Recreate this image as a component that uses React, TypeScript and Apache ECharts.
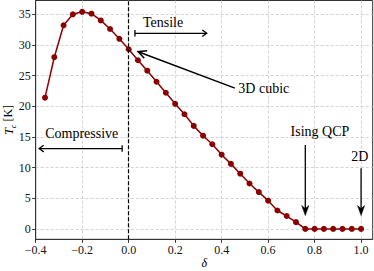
import React, { useEffect, useRef } from "react";
import * as echarts from "echarts";

const deltaValues = [
  -0.36, -0.32, -0.28, -0.24, -0.2, -0.16, -0.12, -0.08, -0.04, 0.0, 0.04, 0.08,
  0.12, 0.16, 0.2, 0.24, 0.28, 0.32, 0.36, 0.4, 0.44, 0.48, 0.52, 0.56, 0.6,
  0.64, 0.68, 0.72, 0.76, 0.8, 0.84, 0.88, 0.92, 0.96, 1.0,
];
const tcValues = [
  21.4, 28.0, 33.2, 35.0, 35.4, 35.1, 34.0, 32.6, 31.0, 29.3, 27.5, 25.8, 24.0,
  22.2, 20.4, 18.7, 16.8, 15.2, 13.8, 12.1, 10.6, 9.0, 7.4, 6.0, 4.6, 3.0, 2.1,
  1.1, 0, 0, 0, 0, 0, 0, 0,
];
const xTicks = [-0.4, -0.2, 0.0, 0.2, 0.4, 0.6, 0.8, 1.0];
const yTicks = [0, 5, 10, 15, 20, 25, 30, 35];

const FONT = "'Liberation Serif', 'DejaVu Serif', serif";
const RED = "#8b0000";
const AX = "#333333";

export default function App() {
  const ref = useRef<HTMLDivElement>(null);
  useEffect(() => {
    if (!ref.current) return;
    const chart = echarts.init(ref.current, null, { renderer: "svg" });
    chart.setOption({
      animation: false,
      textStyle: { fontFamily: FONT },
      grid: {
        left: 35.7,
        right: 1.3,
        top: 0.5,
        bottom: 31.7,
        show: true,
        borderColor: AX,
        borderWidth: 1,
        backgroundColor: "transparent",
        outerBoundsMode: "none",
      },
      xAxis: {
        type: "value",
        min: -0.4,
        max: 1.05,
        name: "δ",
        nameLocation: "middle",
        nameGap: 18,
        nameMoveOverlap: false,
        nameTextStyle: { fontFamily: FONT, fontSize: 12, fontStyle: "italic", color: "#000" },
        axisLine: { onZero: false, lineStyle: { color: AX, width: 1 } },
        axisTick: { length: 3.5, lineStyle: { color: AX }, customValues: xTicks },
        axisLabel: {
          customValues: xTicks,
          fontFamily: FONT,
          fontSize: 12,
          color: "#111",
          margin: 5,
          formatter: (v: number) => v.toFixed(1).replace("-", "\u2212"),
        },
        splitLine: { show: true, lineStyle: { color: "#c8c8c8", type: [3, 2], width: 0.8 } },
      },
      yAxis: {
        type: "value",
        min: -1.7,
        max: 37.25,
        name: "{t|T}{s|c} [K]",
        nameLocation: "middle",
        nameGap: 21,
        nameRotate: 90,
        nameMoveOverlap: false,
        nameTextStyle: {
          fontFamily: FONT,
          fontSize: 12,
          color: "#000",
          rich: {
            t: { fontFamily: FONT, fontStyle: "italic", fontSize: 12, color: "#000", verticalAlign: "bottom", lineHeight: 14 },
            s: { fontFamily: FONT, fontStyle: "italic", fontSize: 8, color: "#000", verticalAlign: "bottom", lineHeight: 14, padding: [0, 0, -3, 0] },
          },
        },
        axisLine: { show: true, onZero: false, lineStyle: { color: AX, width: 1 } },
        axisTick: { show: true, length: 3.5, lineStyle: { color: AX }, customValues: yTicks },
        axisLabel: { customValues: yTicks, fontFamily: FONT, fontSize: 12, color: "#111", margin: 5 },
        splitLine: { show: true, lineStyle: { color: "#c8c8c8", type: [3, 2], width: 0.8 } },
      },
      series: [
        {
          type: "line",
          data: deltaValues.map((d, i) => [d, tcValues[i]]),
          symbol: "circle",
          symbolSize: 6,
          itemStyle: { color: RED },
          lineStyle: { color: RED, width: 1.5 },
          markLine: {
            silent: true,
            symbol: "none",
            label: { show: false },
            lineStyle: { color: "#000", type: [4, 2], width: 1.2 },
            data: [{ xAxis: 0 }],
          },
          z: 3,
        },
      ],
    });

    const p = (x: number, y: number) => chart.convertToPixel({ gridIndex: 0 }, [x, y]) as number[];
    const els: any[] = [];
    const txt = (x: number, y: number, s: string, align = "center") => {
      const [px, py] = p(x, y);
      els.push({
        type: "text",
        x: px,
        y: py,
        style: { text: s, fontFamily: FONT, fontSize: 14, fill: "#000", align, verticalAlign: "middle" },
        z: 10,
      });
    };
    const line = (a: number[], b: number[], w = 1.3) =>
      els.push({ type: "line", shape: { x1: a[0], y1: a[1], x2: b[0], y2: b[1] }, style: { stroke: "#000", lineWidth: w }, z: 10 });
    const openHead = (from: number[], tip: number[], len: number, hw: number, w = 1.3) => {
      const dx = tip[0] - from[0], dy = tip[1] - from[1];
      const L = Math.hypot(dx, dy);
      const ux = dx / L, uy = dy / L;
      const nx = -uy, ny = ux;
      const bx = tip[0] - ux * len, by = tip[1] - uy * len;
      els.push({
        type: "polyline",
        shape: { points: [[bx + nx * hw, by + ny * hw], tip, [bx - nx * hw, by - ny * hw]] },
        style: { stroke: "#000", lineWidth: w, fill: "none" },
        z: 10,
      });
    };
    const filledHead = (from: number[], tip: number[], len: number, hw: number) => {
      const dx = tip[0] - from[0], dy = tip[1] - from[1];
      const L = Math.hypot(dx, dy);
      const ux = dx / L, uy = dy / L;
      const nx = -uy, ny = ux;
      const bx = tip[0] - ux * len, by = tip[1] - uy * len;
      const mx = tip[0] - ux * len * 0.7, my = tip[1] - uy * len * 0.7;
      els.push({
        type: "polygon",
        shape: { points: [tip, [bx + nx * hw, by + ny * hw], [mx, my], [bx - nx * hw, by - ny * hw]] },
        style: { fill: "#000", stroke: "#000", lineWidth: 0.5 },
        z: 10,
      });
    };
    const bar = (pt: number[], h: number) => line([pt[0], pt[1] - h], [pt[0], pt[1] + h], 1.3);

    // Tensile
    txt(0.148, 33.6, "Tensile");
    {
      const a = p(0.027, 31.9), b = p(0.336, 31.9);
      line(a, b);
      bar(a, 3.3);
      openHead(a, b, 4.5, 3.3);
    }
    // Compressive
    txt(-0.202, 15.6, "Compressive");
    {
      const a = p(-0.028, 13.1), b = p(-0.385, 13.1);
      line(a, b);
      bar(a, 3.3);
      openHead(a, b, 4.5, 3.3);
    }
    // 3D cubic
    txt(0.472, 22.85, "3D cubic", "left");
    {
      const a = p(0.457, 22.96), b = p(0.041, 28.9);
      line(a, b, 1.5);
      openHead(a, b, 8, 4, 1.6);
    }
    // Ising QCP
    txt(0.823, 15.85, "Ising QCP");
    {
      const a = p(0.76, 13.7), b = p(0.76, 2.17);
      line(a, [b[0], b[1] - 4], 1.3);
      filledHead(a, b, 10, 3.6);
    }
    // 2D
    txt(0.995, 11.8, "2D");
    {
      const a = p(1.0, 9.9), b = p(1.0, 2.17);
      line(a, [b[0], b[1] - 4], 1.3);
      filledHead(a, b, 10, 3.6);
    }
    chart.setOption({ graphic: { elements: els } });

    return () => chart.dispose();
  }, []);
  return <div ref={ref} style={{ position: "absolute", left: 0, top: 0, width: 374, height: 271 }} />;
}
